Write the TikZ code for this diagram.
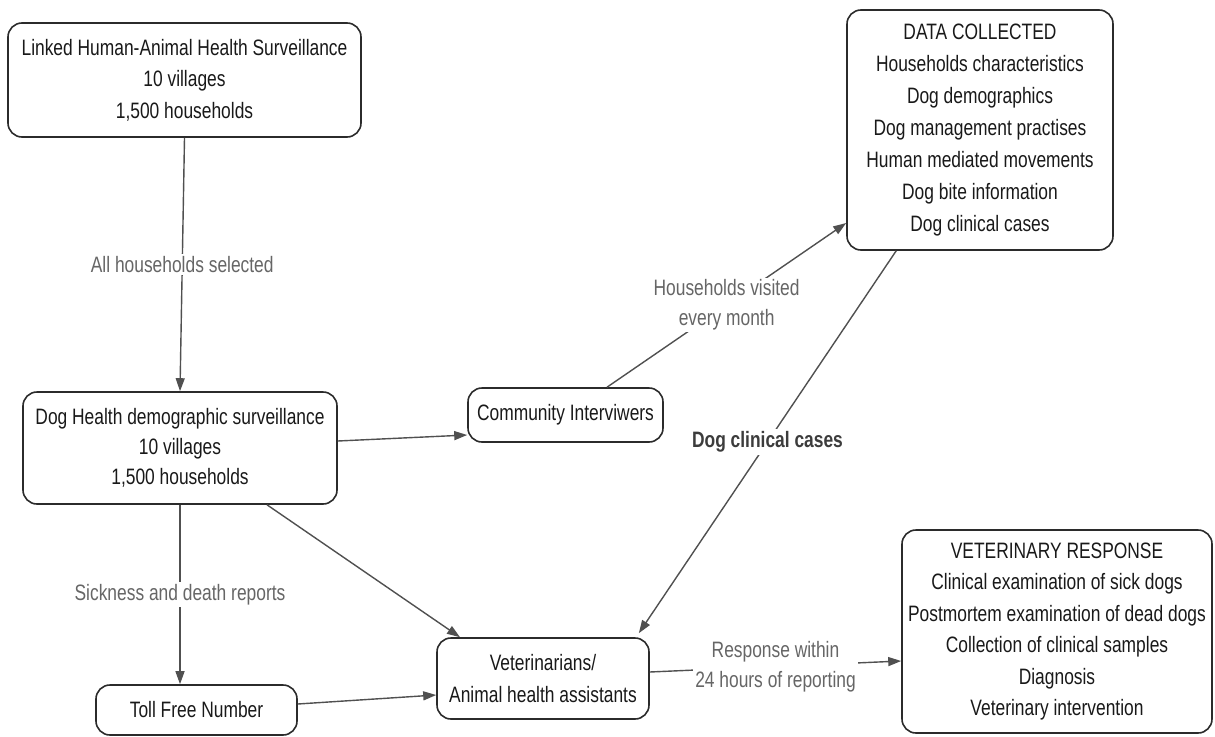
\documentclass[tikz,border=0pt]{standalone}
\usepackage{fontspec}
\setmainfont{Liberation Sans}[FakeStretch=0.78]
\usetikzlibrary{arrows.meta,calc}
\definecolor{boxline}{HTML}{2B2B2B}
\definecolor{conn}{HTML}{505050}
\definecolor{lbl}{HTML}{666666}
\definecolor{lblb}{HTML}{3C3C3C}
\begin{document}
\begin{tikzpicture}[x=1pt,y=-1pt,
  box/.style={draw=boxline, line width=1.6pt, rounded corners=14pt, align=center, inner sep=0pt, text=black!90, font=\fontsize{22.3}{31.5}\selectfont},
  arr/.style={draw=conn, line width=1.4pt, -{Triangle[length=13pt,width=9pt]}},
  lab/.style={fill=white, inner sep=2pt, align=center, text=lbl, font=\fontsize{22.3}{30}\selectfont},
  labb/.style={fill=white, inner sep=3pt, text=lblb, font=\fontsize{22.3}{30}\selectfont\bfseries},
]
\useasboundingbox (0,0) rectangle (1215,736);
\node[box, minimum width=353pt, minimum height=114pt] (b1) at (184.5,80)
  {Linked Human-Animal Health Surveillance\\10 villages\\1,500 households};
\node[box, minimum width=314pt, minimum height=112pt, font=\fontsize{22.3}{30}\selectfont] (b2) at (180,448)
  {Dog Health demographic surveillance\\10 villages\\1,500 households};
\node[box, minimum width=195pt, minimum height=54pt] (ci) at (565.5,415)
  {Community Interviwers};
\node[box, minimum width=201pt, minimum height=50pt] (toll) at (196.5,710)
  {Toll Free Number};
\node[box, minimum width=212pt, minimum height=81pt] (vet) at (543,678.5)
  {Veterinarians/\\Animal health assistants};
\node[box, minimum width=266pt, minimum height=240pt, font=\fontsize{22.3}{32}\selectfont] (data) at (980,130)
  {DATA COLLECTED\\Households characteristics\\Dog demographics\\Dog management practises\\Human mediated movements\\Dog bite information\\Dog clinical cases};
\node[box, minimum width=310pt, minimum height=203pt] (vr) at (1057,631.5)
  {VETERINARY RESPONSE\\Clinical examination of sick dogs\\Postmortem examination of dead dogs\\Collection of clinical samples\\Diagnosis\\Veterinary intervention};

\draw[arr] (b1.south) -- node[lab] {All households selected} (b2.north);
\draw[arr] ([yshift=7pt]b2.east) -- ([yshift=-20pt]ci.west);
\draw[arr] ([xshift=87pt]b2.south) -- ([xshift=-83pt]vet.north);
\draw[arr] (b2.south) -- node[lab] {Sickness and death reports} (b2.south |- toll.north);
\draw[arr] ([yshift=6pt]toll.east) -- ([yshift=-16.5pt]vet.west);
\draw[arr] ([xshift=41.5pt]ci.north) -- node[lab] {Households visited\\every month} ([yshift=-93pt]data.west);
\draw[arr] ([xshift=50pt]data.south west) -- node[labb] {Dog clinical cases} ([xshift=-11pt,yshift=4pt]vet.north east);
\draw[arr] ([yshift=6.5pt]vet.east) -- node[lab] {Response within\\24 hours of reporting} ([yshift=-29.5pt]vr.west);
\end{tikzpicture}
\end{document}
